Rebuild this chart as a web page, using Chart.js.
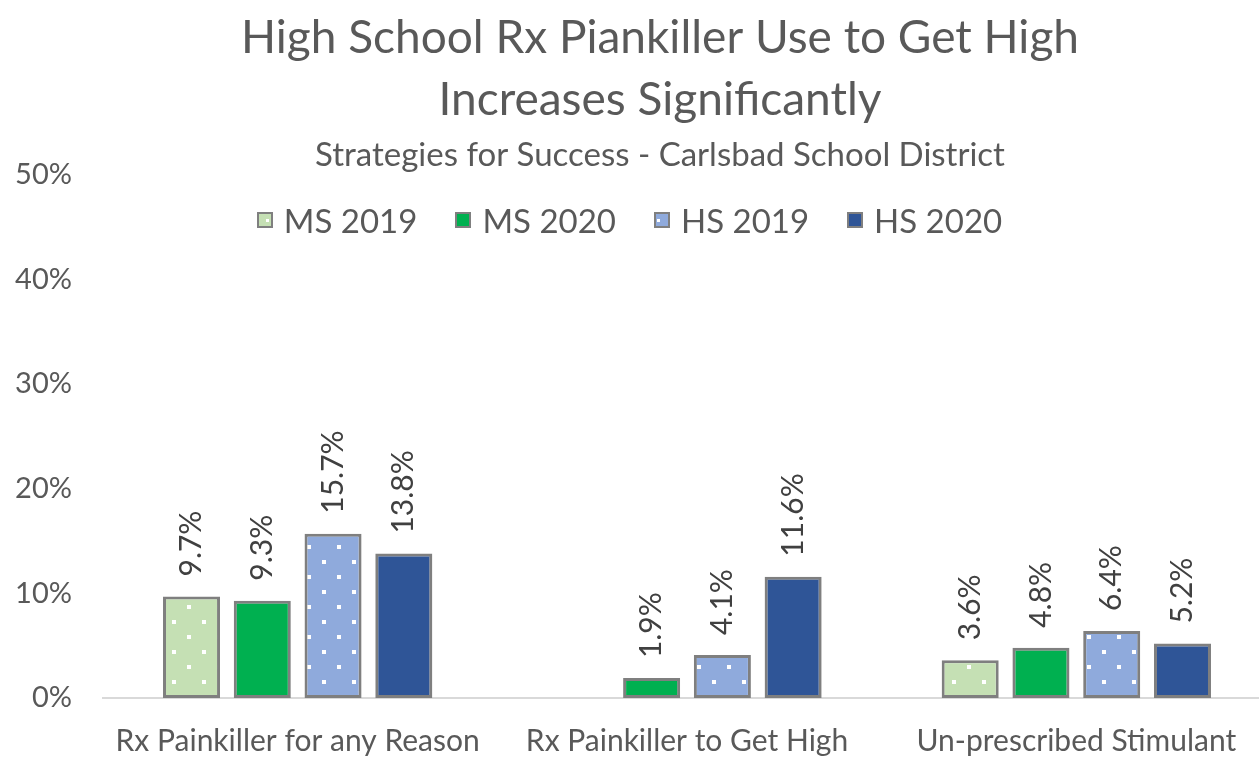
<!DOCTYPE html>
<html>
<head>
<meta charset="utf-8">
<script src="https://cdn.jsdelivr.net/npm/chart.js@4/dist/chart.umd.min.js"></script>
<style>
  html, body { margin: 0; padding: 0; background: #fff; overflow: hidden; }
  #wrap { position: relative; width: 1259px; height: 757px; overflow: hidden; }
  canvas { display: block; }
  #legend {
    position: absolute; top: 200px; left: 0; width: 1259px; line-height: 40px;
    display: flex; justify-content: center; gap: 38px;
    font-family: Lato, sans-serif; font-size: 33px; color: #595959;
  }
  .item { display: flex; align-items: center; gap: 11px; }
  .box { position: relative; width: 12px; height: 12px; border: 2px solid #7f7f7f; }
  .dot { position: absolute; width: 3px; height: 3px; background: #fff; }
</style>
</head>
<body>
<div id="wrap">
  <canvas id="chart" width="1320" height="757"></canvas>
  <div id="legend"></div>
</div>
<script>
const categories = ["Rx Painkiller for any Reason", "Rx Painkiller to Get High", "Un-prescribed Stimulant"];
const ms2019 = [9.7, null, 3.6];
const ms2020 = [9.3, 1.9, 4.8];
const hs2019 = [15.7, 4.1, 6.4];
const hs2020 = [13.8, 11.6, 5.2];
const seriesNames = ["MS 2019", "MS 2020", "HS 2019", "HS 2020"];
const yTicks = [0, 10, 20, 30, 40, 50];

const textColor = "#595959";
const edge = "#7f7f7f";

function dots(bg) {
  const c = document.createElement("canvas");
  c.width = 30;
  c.height = 30;
  const g = c.getContext("2d");
  g.fillStyle = bg;
  g.fillRect(0, 0, 30, 30);
  g.fillStyle = "#ffffff";
  g.fillRect(7, 5, 4, 4);
  g.fillRect(22, 20, 4, 4);
  return g.createPattern(c, "repeat");
}

const fills = [dots("#c5e0b4"), "#00b050", dots("#8faadc"), "#2f5597"];
const plain = ["#c5e0b4", "#00b050", "#8faadc", "#2f5597"];
const values = [ms2019, ms2020, hs2019, hs2020];

// rotated value labels above each bar
const barLabels = {
  id: "barLabels",
  afterDatasetsDraw(chart) {
    const ctx = chart.ctx;
    ctx.save();
    ctx.fillStyle = "#404040";
    ctx.font = "30px Lato, sans-serif";
    ctx.textAlign = "left";
    ctx.textBaseline = "middle";
    chart.data.datasets.forEach((ds, i) => {
      chart.getDatasetMeta(i).data.forEach((bar, j) => {
        const v = ds.data[j];
        if (v === null) return;
        ctx.save();
        ctx.translate(bar.x, bar.y - 20);
        ctx.rotate(-Math.PI / 2);
        ctx.fillText(v.toFixed(1) + "%", 0, 0);
        ctx.restore();
      });
    });
    ctx.restore();
  },
};

new Chart(document.getElementById("chart"), {
  type: "bar",
  data: {
    labels: categories,
    datasets: values.map((d, i) => ({
      label: seriesNames[i],
      data: d,
      backgroundColor: fills[i],
      borderColor: edge,
      borderWidth: 3,
      borderSkipped: false,
      categoryPercentage: 0.727,
      barPercentage: 0.806,
    })),
  },
  options: {
    responsive: false,
    animation: false,
    layout: { padding: 0 },
    plugins: {
      legend: { display: false },
      tooltip: { enabled: false },
      title: {
        display: true,
        text: ["High School Rx Piankiller Use to Get High", "Increases Significantly"],
        color: textColor,
        font: { family: "Lato, sans-serif", size: 46, weight: "normal", lineHeight: 1.33 },
        padding: { top: 8, bottom: 6 },
      },
      subtitle: {
        display: true,
        text: "Strategies for Success - Carlsbad School District",
        color: textColor,
        font: { family: "Lato, sans-serif", size: 33, weight: "normal", lineHeight: 1.0 },
        padding: { top: 2.5, bottom: 3 },
      },
    },
    scales: {
      x: {
        grid: { display: false, drawTicks: false },
        border: { display: true, color: "#d9d9d9", width: 2 },
        ticks: { color: textColor, font: { family: "Lato, sans-serif", size: 30, lineHeight: 1.0 }, padding: 28, maxRotation: 0 },
        afterFit(s) { s.height = 59; },
      },
      y: {
        min: 0,
        max: 50,
        afterBuildTicks(s) { s.ticks = yTicks.map(v => ({ value: v })); },
        afterFit(s) { s.width = 103; },
        grid: { display: false, drawTicks: false },
        border: { display: false },
        ticks: { color: textColor, font: { family: "Lato, sans-serif", size: 29 }, padding: 31, callback: v => v + "%" },
      },
      pad: {
        type: "linear",
        position: "right",
        afterFit(s) { s.width = 49; },
        grid: { display: false, drawTicks: false },
        border: { display: false },
        ticks: { display: false },
      },
    },
  },
  plugins: [barLabels],
});

// html legend
const legend = document.getElementById("legend");
const dotSpots = [[7, 5], null, [1, 5], null];
seriesNames.forEach((name, i) => {
  const item = document.createElement("div");
  item.className = "item";
  const box = document.createElement("span");
  box.className = "box";
  box.style.background = plain[i];
  if (dotSpots[i]) {
    const d = document.createElement("span");
    d.className = "dot";
    d.style.left = dotSpots[i][0] + "px";
    d.style.top = dotSpots[i][1] + "px";
    box.appendChild(d);
  }
  const label = document.createElement("span");
  label.textContent = name;
  item.appendChild(box);
  item.appendChild(label);
  legend.appendChild(item);
});
</script>
</body>
</html>
